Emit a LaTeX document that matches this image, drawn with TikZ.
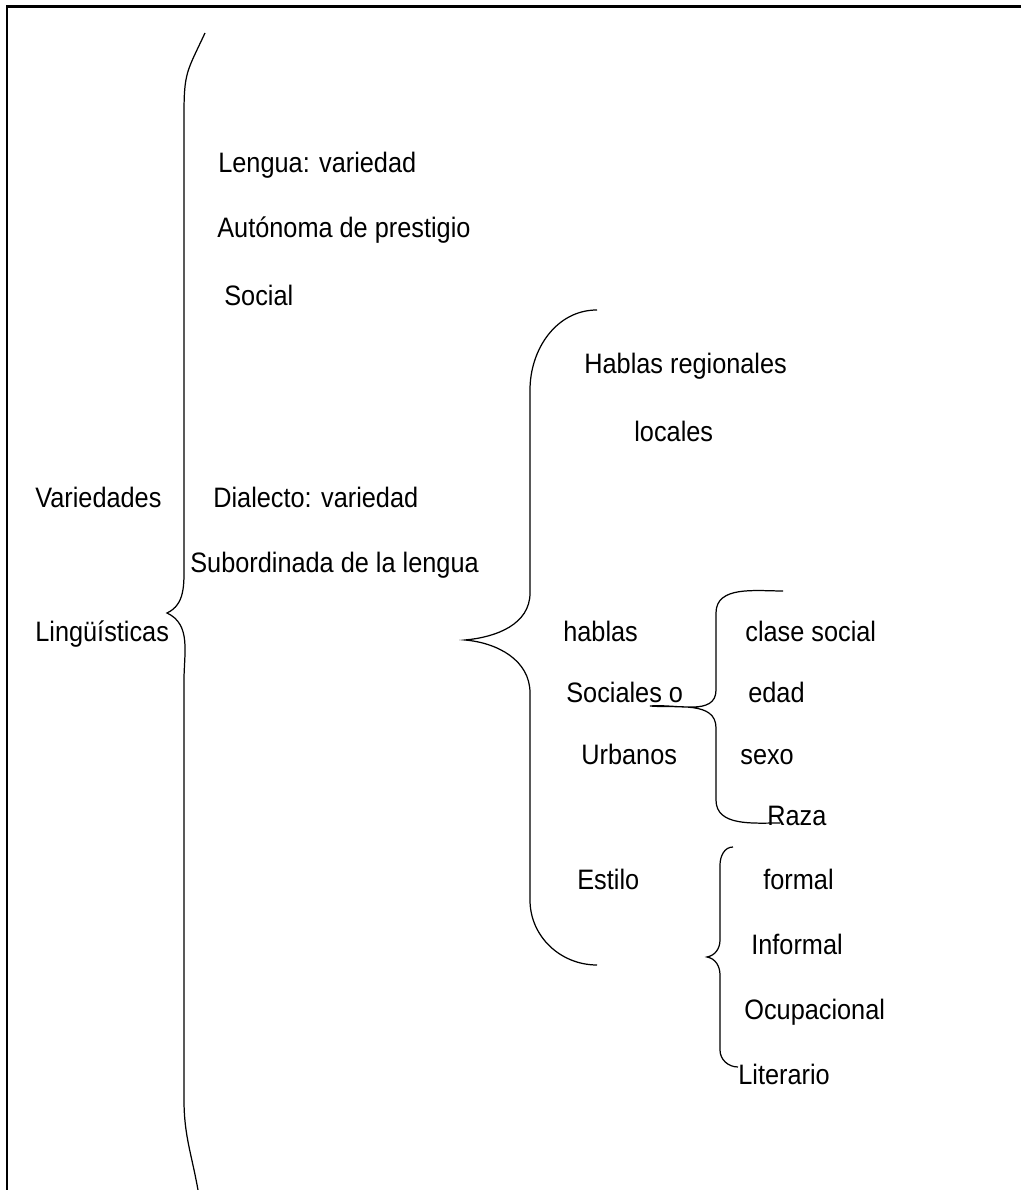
\documentclass[tikz,border=0pt]{standalone}
\usepackage{fontspec}
\setmainfont[FakeStretch=0.9]{Liberation Sans}
\usepackage{tikz}

\begin{document}
\begin{tikzpicture}[x=0.02cm, y=0.02cm,
    lbl/.style={anchor=base west, inner sep=0pt, font=\fontsize{16}{19}\selectfont},
    brace/.style={line width=0.7pt, black}]
      \useasboundingbox (0,0) rectangle (1021,1190);
      % Frame
      \draw[line width=1.7pt] (7,0) -- (7,1183) -- (1021,1183);
      % Labels
      \node[lbl] (lengua) at (218,1017) {Lengua: variedad};
      \node[lbl] (autonoma) at (217,952) {Autónoma de prestigio};
      \node[lbl] (social) at (224,884) {Social};
      \node[lbl] (hablasreg) at (584,816) {Hablas regionales};
      \node[lbl] (locales) at (634,748) {locales};
      \node[lbl] (variedades) at (35,682) {Variedades};
      \node[lbl] (dialecto) at (213,682) {Dialecto: variedad};
      \node[lbl] (subordinada) at (190,617) {Subordinada de la lengua};
      \node[lbl] (linguisticas) at (35,548) {Lingüísticas};
      \node[lbl] (hablas) at (563,548) {hablas};
      \node[lbl] (clase) at (745,548) {clase social};
      \node[lbl] (sociales) at (566,487) {Sociales o};
      \node[lbl] (edad) at (748,487) {edad};
      \node[lbl] (urbanos) at (581,425) {Urbanos};
      \node[lbl] (sexo) at (740,425) {sexo};
      \node[lbl] (raza) at (767,364) {Raza};
      \node[lbl] (estilo) at (577,300) {Estilo};
      \node[lbl] (formal) at (763,300) {formal};
      \node[lbl] (informal) at (751,235) {Informal};
      \node[lbl] (ocupacional) at (744,170) {Ocupacional};
      \node[lbl] (literario) at (738,105) {Literario};
      % Braces
      \draw[brace] (205,1157) to[out=-115, in=90, looseness=1.3] (184,1075) -- (184,625)
      to[out=-90, in=25] (167,577) to[out=-25, in=90] (184,510)
      -- (184,90) to[out=-90, in=100] (198,0);
      \draw[brace] (597,880) to[out=180, in=90] (530,800) -- (530,597)
      to[out=-90, in=5] (465,550) to[out=-5, in=90] (530,497)
      -- (530,290) to[out=-90, in=180] (597,225);
      \draw[brace] (783,599) to[out=180, in=90] (716,577) -- (716,500)
      to[out=-90, in=5] (650,484) to[out=-5, in=90] (716,462)
      -- (716,390) to[out=-90, in=180] (780,367);
      \draw[brace] (733,343) to[out=180, in=90] (720,325) -- (720,250)
      to[out=-90, in=10] (707,233) to[out=-10, in=90] (720,215)
      -- (720,140) to[out=-90, in=180] (738,123);
    \end{tikzpicture}
\end{document}
